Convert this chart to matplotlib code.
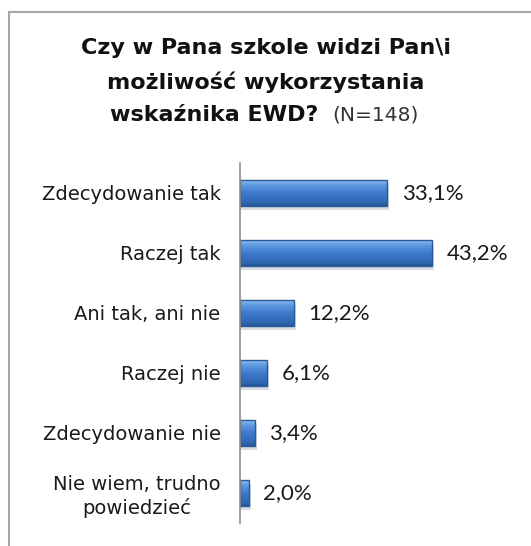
import matplotlib
matplotlib.use("Agg")
import matplotlib.pyplot as plt
import numpy as np
from matplotlib.lines import Line2D
from matplotlib.colors import LinearSegmentedColormap

categories = ["Zdecydowanie tak", "Raczej tak", "Ani tak, ani nie", "Raczej nie",
              "Zdecydowanie nie", "Nie wiem, trudno\npowiedzieć"]
values = [33.1, 43.2, 12.2, 6.1, 3.4, 2.0]
value_labels = ["33,1%", "43,2%", "12,2%", "6,1%", "3,4%", "2,0%"]

fig = plt.figure(figsize=(5.31, 5.46), dpi=100)
fig.patch.set_facecolor("white")

# chart border (top and left visible)
fig.add_artist(Line2D([9/531, 1.0], [1 - 12/546, 1 - 12/546], color="#a6a6a6", lw=1.5))
fig.add_artist(Line2D([9/531, 9/531], [0, 1 - 12/546], color="#a6a6a6", lw=1.5))

ax = fig.add_axes([240/531, 23/546, 267/531, 360/546])
y = list(range(len(categories)))
h = 0.42

cmap = LinearSegmentedColormap.from_list(
    "bar", [(0.0, "#8cbbef"), (0.2, "#5f98de"), (0.5, "#3d7acb"),
            (0.85, "#3169b5"), (1.0, "#285796")])
grad = np.linspace(0, 1, 64).reshape(-1, 1)

# shadow
ax.barh([v + 0.07 for v in y], [v + 0.4 for v in values], height=h, color="#d9dde3",
        left=0, zorder=1)
bars = ax.barh(y, values, height=h, color="none", edgecolor="#2a5a98", linewidth=1.0, zorder=3)
for b, yi, v in zip(bars, y, values):
    im = ax.imshow(grad, cmap=cmap, aspect="auto", extent=[0, v, yi + h/2, yi - h/2],
                   zorder=2, interpolation="bilinear")
    im.set_clip_path(b)

ax.set_ylim(5.5, -0.5)
ax.set_xlim(0, 60)
ax.set_aspect("auto")
for s in ["top", "right", "bottom"]:
    ax.spines[s].set_visible(False)
ax.spines["left"].set_color("#8c8c8c")
ax.spines["left"].set_linewidth(1.2)
ax.spines["left"].set_zorder(5)
ax.set_xticks([])
ax.set_yticks(y)
ax.set_yticklabels(categories, fontsize=14, color="#1a1a1a", family="DejaVu Sans",
                   linespacing=1.25)
ax.tick_params(axis="y", length=0, pad=14)
for lab in ax.get_yticklabels():
    lab.set_horizontalalignment("right")
    lab.set_multialignment("center")

for yi, v, lbl in zip(y, values, value_labels):
    ax.text(v + 3.2, yi, lbl, va="center", ha="left", fontsize=16,
            color="#1a1a1a", family="Lato")

fig.text(266/531, 1 - 48/546, "Czy w Pana szkole widzi Pan\\i", ha="center", va="center",
         fontsize=16, fontweight="bold", color="#111111", family="DejaVu Sans")
fig.text(266/531, 1 - 82/546, "możliwość wykorzystania", ha="center", va="center",
         fontsize=16, fontweight="bold", color="#111111", family="DejaVu Sans")
fig.text(318/531, 1 - 115/546, "wskaźnika EWD?", ha="right", va="center",
         fontsize=16, fontweight="bold", color="#111111", family="DejaVu Sans")
fig.text(332/531, 1 - 115/546, "(N=148)", ha="left", va="center",
         fontsize=14.5, color="#333333", family="DejaVu Sans")

fig.savefig("out.png", dpi=100)
